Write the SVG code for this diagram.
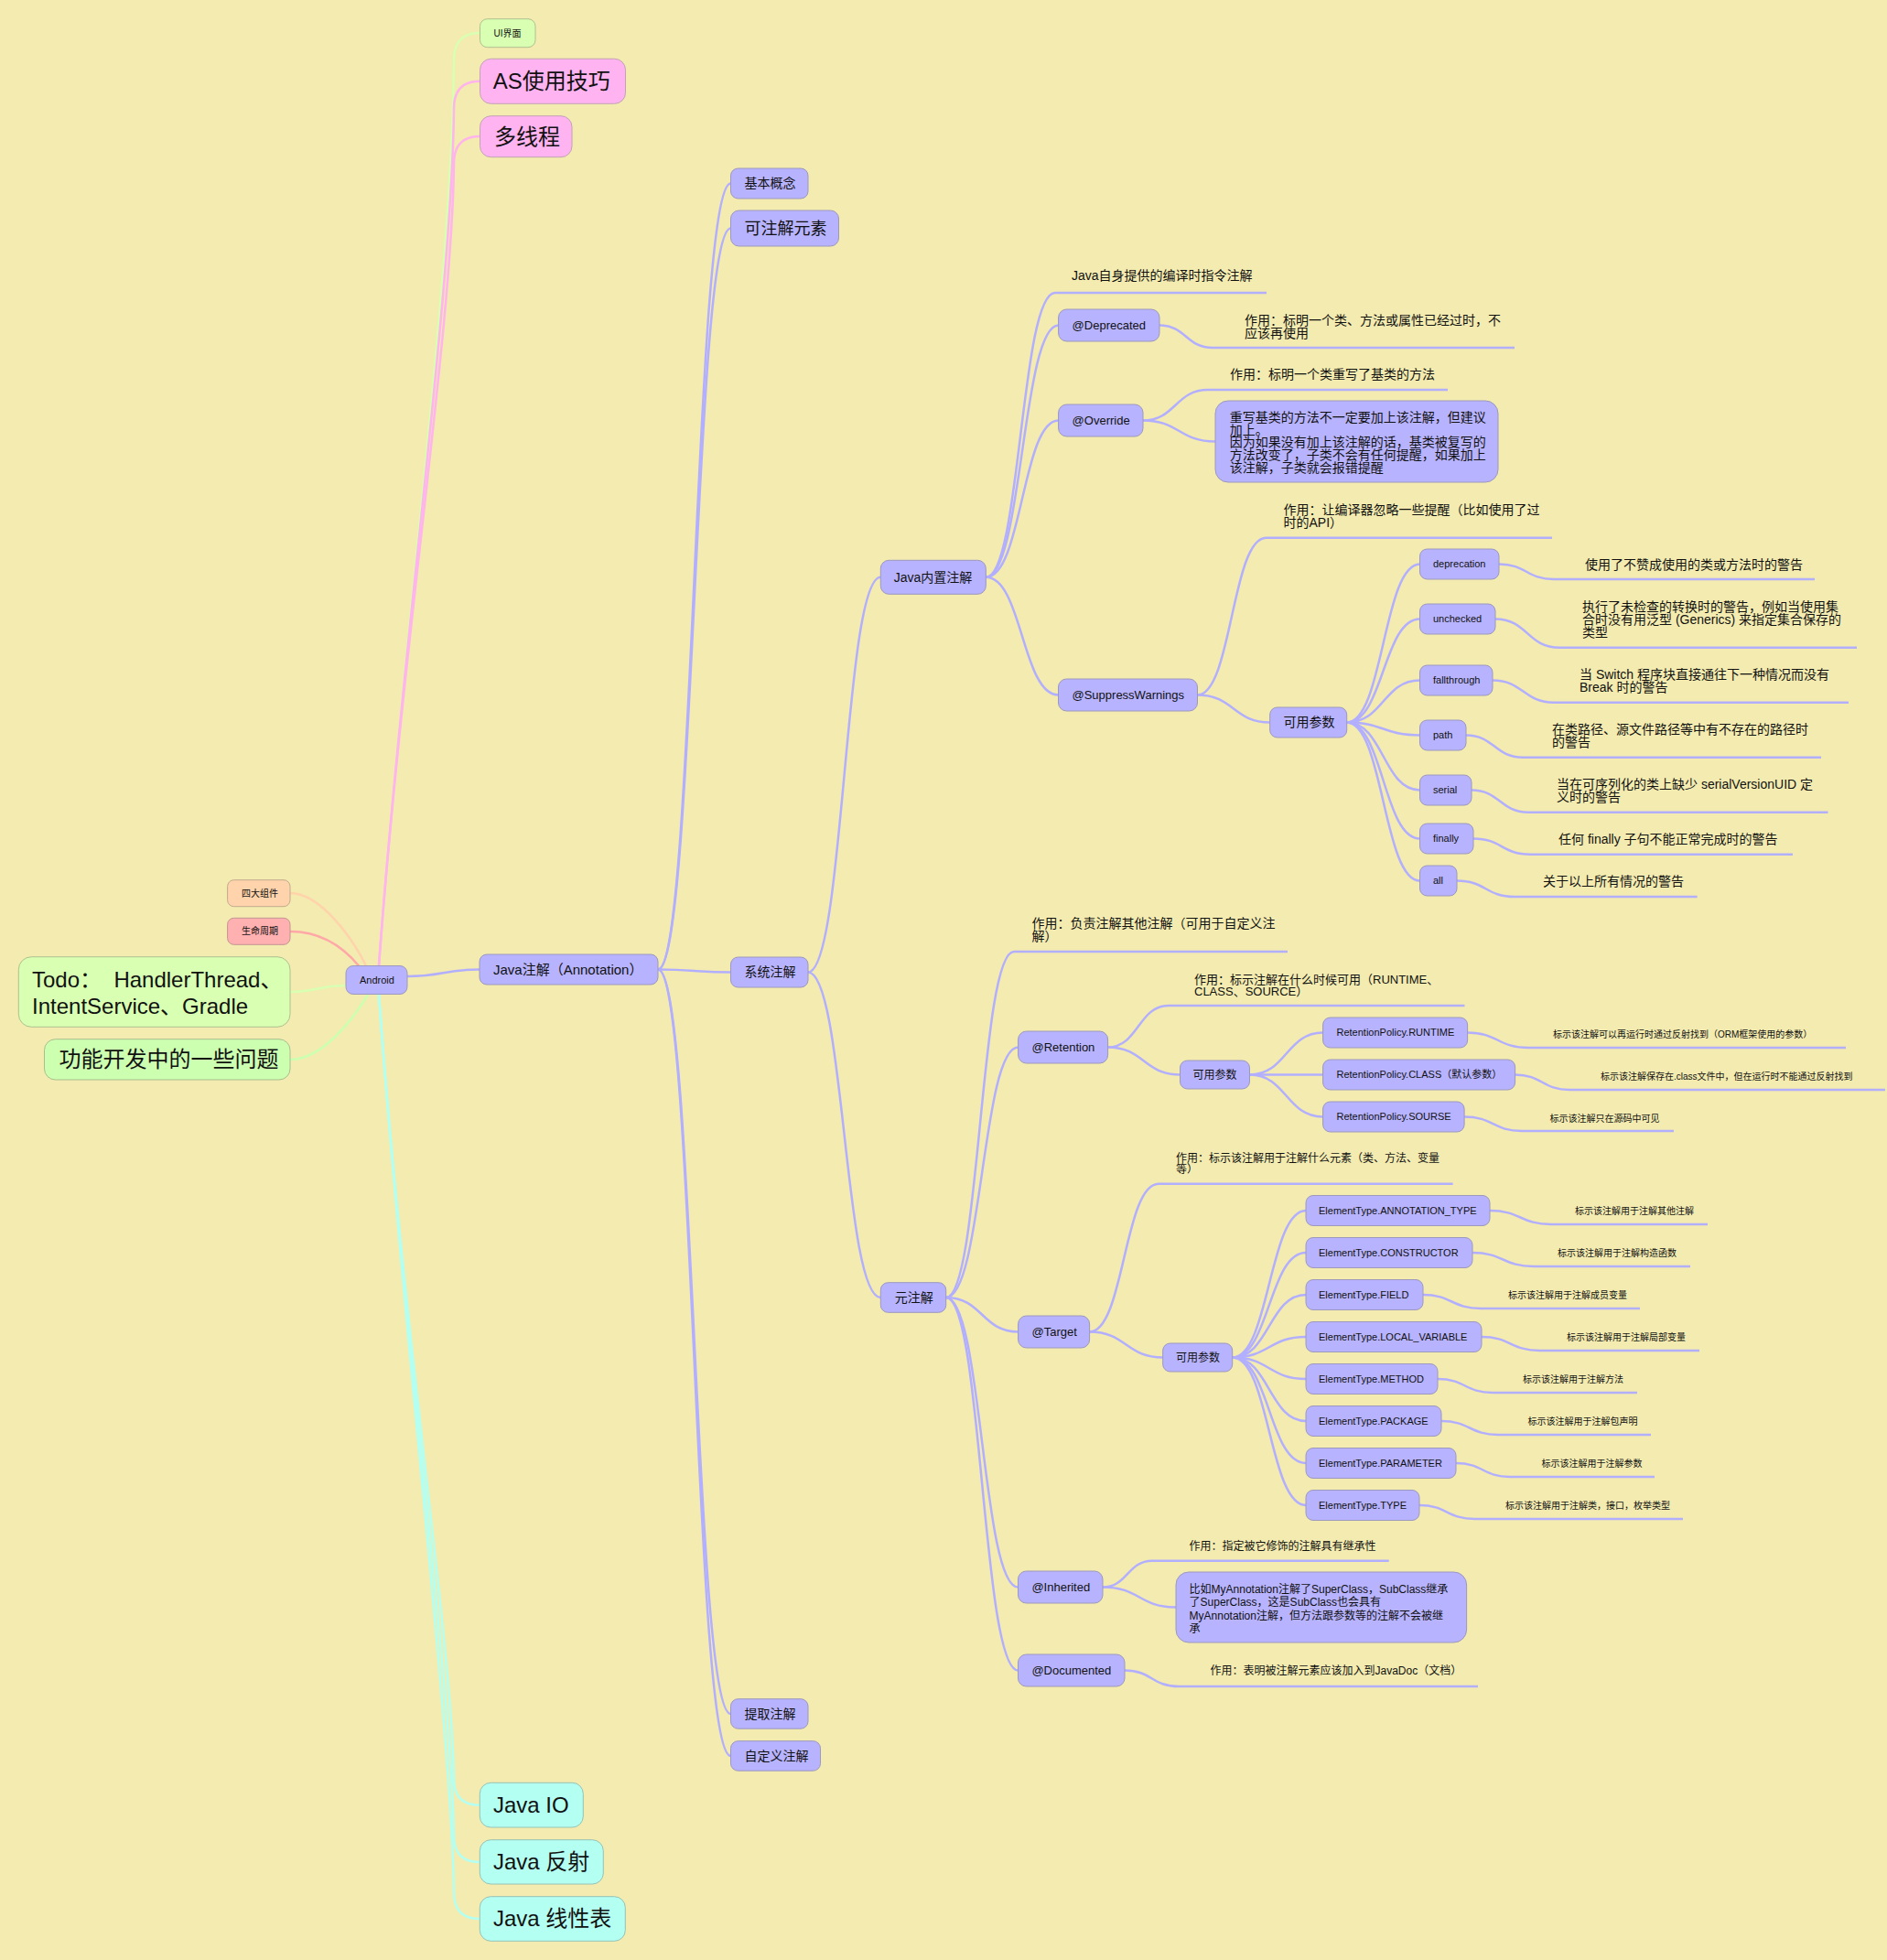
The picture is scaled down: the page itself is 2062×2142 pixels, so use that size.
<svg xmlns="http://www.w3.org/2000/svg" width="2062" height="2142" viewBox="0 0 2062 2142">
<style>
text{font-family:"Liberation Sans","Noto Sans CJK SC",sans-serif;fill:#111}
.n{fill:#B7B3FE;stroke:#9C98BE;stroke-width:1}
.c{fill:none;stroke:#B3AFFF;stroke-width:2.5}
.pk{fill:#FFB3F0;stroke:#C2A3B6;stroke-width:1}
.gr{fill:#D8FFB2;stroke:#AFC08E;stroke-width:1}
.gr2{fill:#CCFFB0;stroke:#A9BE8E;stroke-width:1}
.pe{fill:#FFD3AB;stroke:#C2AA8E;stroke-width:1}
.rd{fill:#FFB0B0;stroke:#C29494;stroke-width:1}
.cy{fill:#B3FFF2;stroke:#96C2B6;stroke-width:1}
.f10{font-size:10px}.f11{font-size:11px}.f12{font-size:12px}.f13{font-size:13px}.f14{font-size:14px}.f15{font-size:15px}.f18{font-size:18px}.f24{font-size:24px}
</style>
<rect x="0" y="0" width="2062" height="2142" fill="#F3EBAF"/>
<g id="connectors">
<path d="M414 1055.5C440 700 494 300 496 66Q496 36 524.5 36" fill="none" stroke="#D8FFB2" stroke-width="2.5"/>
<path d="M414 1055.5C440 700 494 320 496 118.7Q496 88.7 524.5 88.7" fill="none" stroke="#FFB4EC" stroke-width="2.5"/>
<path d="M414 1055.5C440 700 494 360 496 179Q496 149 524.5 149" fill="none" stroke="#FFB4EC" stroke-width="2.5"/>
<path d="M414 1087C440 1450 494 1800 496 1944Q496 1972.7 524.3 1972.7" fill="none" stroke="#B3FFF2" stroke-width="2.5"/>
<path d="M414 1087C440 1450 494 1850 496 2006Q496 2035 524.3 2035" fill="none" stroke="#B3FFF2" stroke-width="2.5"/>
<path d="M414 1087C440 1450 494 1900 496 2068Q496 2097 524.3 2097" fill="none" stroke="#B3FFF2" stroke-width="2.5"/>
<path d="M317 976C350 976 385 1025 400 1055.5" fill="none" stroke="#FFD3AB" stroke-width="2.5"/>
<path d="M317 1018C350 1018 375 1035 392 1055.5" fill="none" stroke="#FFA8A8" stroke-width="2.5"/>
<path d="M317 1084C347 1084 348 1077 378 1077" fill="none" stroke="#D8FFB2" stroke-width="2.5"/>
<path d="M317 1158C352 1158 385 1115 402 1087" fill="none" stroke="#CCFFB0" stroke-width="2.5"/>
<path class="c" d="M445 1067C484.5 1067 484.5 1059.5 524 1059.5"/>
<path class="c" d="M719 1059.5C758.75 1059.5 758.75 200.5 798.5 200.5"/>
<path class="c" d="M719 1059.5C758.75 1059.5 758.75 249.5 798.5 249.5"/>
<path class="c" d="M719 1059.5C758.75 1059.5 758.75 1062.5 798.5 1062.5"/>
<path class="c" d="M719 1059.5C758.75 1059.5 758.75 1873 798.5 1873"/>
<path class="c" d="M719 1059.5C758.75 1059.5 758.75 1919 798.5 1919"/>
<path class="c" d="M883 1062.5C922.6 1062.5 922.6 630.8 962.3 630.8"/>
<path class="c" d="M883 1062.5C922.6 1062.5 922.6 1418 962.3 1418"/>
<path class="c" d="M1077.3 630.8C1115.2 630.8 1115.2 320 1153 320L1384 320"/>
<path class="c" d="M1077.3 630.8C1117 630.8 1117 355.5 1156.6 355.5"/>
<path class="c" d="M1077.3 630.8C1117 630.8 1117 459.5 1156.6 459.5"/>
<path class="c" d="M1077.3 630.8C1117 630.8 1117 759.5 1156.5 759.5"/>
<path class="c" d="M1267 355.5C1296 355.5 1296 380 1325 380L1655 380"/>
<path class="c" d="M1249 459.5C1284.5 459.5 1284.5 426 1320 426L1582 426"/>
<path class="c" d="M1249 459.5C1288.5 459.5 1288.5 482.5 1328 482.5"/>
<path class="c" d="M1308.5 759.5C1346 759.5 1346 587.7 1383.5 587.7L1696 587.7"/>
<path class="c" d="M1308.5 759.5C1348 759.5 1348 789.5 1387.7 789.5"/>
<path class="c" d="M1471.7 789.5C1511.6 789.5 1511.6 616.5 1551.5 616.5"/>
<path class="c" d="M1471.7 789.5C1511.6 789.5 1511.6 676.5 1551.5 676.5"/>
<path class="c" d="M1471.7 789.5C1511.6 789.5 1511.6 743.5 1551.5 743.5"/>
<path class="c" d="M1471.7 789.5C1511.6 789.5 1511.6 803.5 1551.5 803.5"/>
<path class="c" d="M1471.7 789.5C1511.6 789.5 1511.6 863.5 1551.5 863.5"/>
<path class="c" d="M1471.7 789.5C1511.6 789.5 1511.6 916.5 1551.5 916.5"/>
<path class="c" d="M1471.7 789.5C1511.6 789.5 1511.6 962.5 1551.5 962.5"/>
<path class="c" d="M1638 616.5C1668 616.5 1668 633 1698 633L1983 633"/>
<path class="c" d="M1634 676.5C1669 676.5 1669 707.7 1704 707.7L2029 707.7"/>
<path class="c" d="M1631 743.5C1664.5 743.5 1664.5 767.7 1698 767.7L2020 767.7"/>
<path class="c" d="M1602 803.5C1633 803.5 1633 827.7 1664 827.7L1990 827.7"/>
<path class="c" d="M1608 863.5C1639 863.5 1639 887.7 1670 887.7L1997.5 887.7"/>
<path class="c" d="M1610 916.5C1641 916.5 1641 933.7 1672 933.7L1959 933.7"/>
<path class="c" d="M1592 962.5C1623.5 962.5 1623.5 980 1655 980L1854.6 980"/>
<path class="c" d="M1033.7 1418C1070.9 1418 1070.9 1040 1108 1040L1407 1040"/>
<path class="c" d="M1033.7 1418C1073.2 1418 1073.2 1144.5 1112.6 1144.5"/>
<path class="c" d="M1033.7 1418C1073.2 1418 1073.2 1455.5 1112.6 1455.5"/>
<path class="c" d="M1033.7 1418C1073.2 1418 1073.2 1734.5 1112.5 1734.5"/>
<path class="c" d="M1033.7 1418C1073.2 1418 1073.2 1825.5 1112.5 1825.5"/>
<path class="c" d="M1210.6 1144.5C1243.8 1144.5 1243.8 1099 1277 1099L1600.5 1099"/>
<path class="c" d="M1210.6 1144.5C1250 1144.5 1250 1174.5 1289.5 1174.5"/>
<path class="c" d="M1365.5 1174.5C1405.6 1174.5 1405.6 1128.5 1445.6 1128.5"/>
<path class="c" d="M1365.5 1174.5C1405.6 1174.5 1405.6 1174.5 1445.6 1174.5"/>
<path class="c" d="M1365.5 1174.5C1405.6 1174.5 1405.6 1220.5 1445.6 1220.5"/>
<path class="c" d="M1603.6 1128.5C1636.8 1128.5 1636.8 1145 1670 1145L2017 1145"/>
<path class="c" d="M1655.6 1174.5C1685.3 1174.5 1685.3 1191 1715 1191L2060 1191"/>
<path class="c" d="M1600.1 1220.5C1631.5 1220.5 1631.5 1236 1663 1236L1829 1236"/>
<path class="c" d="M1190.6 1455.5C1228.3 1455.5 1228.3 1293.7 1266 1293.7L1587.6 1293.7"/>
<path class="c" d="M1190.6 1455.5C1230.6 1455.5 1230.6 1483.5 1270.7 1483.5"/>
<path class="c" d="M1346.7 1483.5C1386.9 1483.5 1386.9 1323 1427 1323"/>
<path class="c" d="M1346.7 1483.5C1386.9 1483.5 1386.9 1369 1427 1369"/>
<path class="c" d="M1346.7 1483.5C1386.9 1483.5 1386.9 1415 1427 1415"/>
<path class="c" d="M1346.7 1483.5C1386.9 1483.5 1386.9 1461 1427 1461"/>
<path class="c" d="M1346.7 1483.5C1386.9 1483.5 1386.9 1507 1427 1507"/>
<path class="c" d="M1346.7 1483.5C1386.9 1483.5 1386.9 1553 1427 1553"/>
<path class="c" d="M1346.7 1483.5C1386.9 1483.5 1386.9 1599 1427 1599"/>
<path class="c" d="M1346.7 1483.5C1386.9 1483.5 1386.9 1645 1427 1645"/>
<path class="c" d="M1628 1323C1661.5 1323 1661.5 1338 1695 1338L1866 1338"/>
<path class="c" d="M1609 1369C1642.5 1369 1642.5 1384 1676 1384L1847 1384"/>
<path class="c" d="M1555 1415C1586.5 1415 1586.5 1430 1618 1430L1792 1430"/>
<path class="c" d="M1619 1461C1650.8 1461 1650.8 1476 1682.5 1476L1857 1476"/>
<path class="c" d="M1571 1507C1601 1507 1601 1522 1631 1522L1789 1522"/>
<path class="c" d="M1575 1553C1606 1553 1606 1568 1637 1568L1804 1568"/>
<path class="c" d="M1591 1599C1620.5 1599 1620.5 1614 1650 1614L1808 1614"/>
<path class="c" d="M1551 1645C1581.3 1645 1581.3 1660 1611.5 1660L1839 1660"/>
<path class="c" d="M1205 1734.5C1232 1734.5 1232 1705.7 1259 1705.7L1517.7 1705.7"/>
<path class="c" d="M1205 1734.5C1245 1734.5 1245 1756.5 1285 1756.5"/>
<path class="c" d="M1229 1825.5C1258.5 1825.5 1258.5 1843 1288 1843L1615 1843"/>
</g>
<g id="ui"><rect class="gr" x="524.5" y="20.7" width="60.5" height="31" rx="8"/><text class="f10" x="539.5" y="39.5">UI界面</text></g>
<g id="as"><rect class="pk" x="524.5" y="64.3" width="159" height="49" rx="12"/><text class="f24" x="538.7" y="97">AS使用技巧</text></g>
<g id="thread"><rect class="pk" x="524.5" y="126.7" width="100.5" height="45" rx="12"/><text class="f24" x="540" y="157.5">多线程</text></g>
<g id="four"><rect class="pe" x="248.6" y="961.7" width="68.4" height="29" rx="7"/><text class="f10" x="264" y="979.5">四大组件</text></g>
<g id="life"><rect class="rd" x="248.6" y="1003.3" width="68.4" height="29" rx="7"/><text class="f10" x="264" y="1021.3">生命周期</text></g>
<g id="todo"><rect class="gr" x="20.3" y="1045.7" width="296.7" height="76.6" rx="14"/><text class="f24" x="35" y="1079" style="white-space:pre">Todo：  HandlerThread、</text><text class="f24" x="35" y="1107.5">IntentService、Gradle</text></g>
<g id="issues"><rect class="gr2" x="48.5" y="1135.7" width="268.5" height="44.3" rx="12"/><text class="f24" x="64.5" y="1166">功能开发中的一些问题</text></g>
<g id="javaio"><rect class="cy" x="524.3" y="1948.3" width="113" height="48.7" rx="12"/><text class="f24" x="539" y="1981">Java IO</text></g>
<g id="reflect"><rect class="cy" x="524.3" y="2010.7" width="135" height="48.3" rx="12"/><text class="f24" x="539" y="2043">Java 反射</text></g>
<g id="linear"><rect class="cy" x="524.3" y="2072.7" width="159" height="48.6" rx="12"/><text class="f24" x="539" y="2105">Java 线性表</text></g>
<g id="android"><rect class="n" x="378" y="1055.5" width="67" height="31" rx="8"/><text class="f11" x="393" y="1075">Android</text></g>
<g id="annotation"><rect class="n" x="524" y="1043" width="195" height="33" rx="8"/><text class="f15" x="539" y="1064.8">Java注解（Annotation）</text></g>
<g id="basic"><rect class="n" x="798.5" y="184" width="84.5" height="33" rx="8"/><text class="f14" x="813.5" y="205.4">基本概念</text></g>
<g id="elements"><rect class="n" x="798.5" y="230" width="118" height="39" rx="9"/><text class="f18" x="813.5" y="255.8">可注解元素</text></g>
<g id="system"><rect class="n" x="798.5" y="1046" width="84.5" height="33" rx="8"/><text class="f14" x="813.5" y="1067.4">系统注解</text></g>
<g id="extract"><rect class="n" x="798.5" y="1856.7" width="84.5" height="32.5" rx="8"/><text class="f14" x="813.5" y="1877.9">提取注解</text></g>
<g id="custom"><rect class="n" x="798.5" y="1902.7" width="98" height="32.5" rx="8"/><text class="f14" x="813.5" y="1923.9">自定义注解</text></g>
<g id="builtin"><rect class="n" x="962.3" y="612.3" width="115" height="37" rx="9"/><text class="f14" x="976.7" y="635.7">Java内置注解</text></g>
<g id="meta"><rect class="n" x="962.3" y="1401.7" width="71.4" height="32.6" rx="8"/><text class="f14" x="977.7" y="1422.9">元注解</text></g>
<g id="t-builtin"><text class="f14" x="1171" y="306">Java自身提供的编译时指令注解</text></g>
<g id="deprecated"><rect class="n" x="1156.6" y="338" width="110.4" height="35" rx="9"/><text class="f13" x="1171.6" y="360">@Deprecated</text></g>
<g id="t-deprecated"><text class="f14" x="1360" y="355">作用：标明一个类、方法或属性已经过时，不</text><text class="f14" x="1360" y="368.5">应该再使用</text></g>
<g id="override"><rect class="n" x="1156.6" y="442" width="92.4" height="35" rx="9"/><text class="f13" x="1171.6" y="464">@Override</text></g>
<g id="t-override"><text class="f14" x="1344" y="414">作用：标明一个类重写了基类的方法</text></g>
<g id="override-note"><rect class="n" x="1328" y="438" width="309" height="89" rx="14"/>
<text class="f14" x="1343.8" y="461">重写基类的方法不一定要加上该注解，但建议</text>
<text class="f14" x="1343.8" y="474.7">加上。</text>
<text class="f14" x="1343.8" y="488.4">因为如果没有加上该注解的话，基类被复写的</text>
<text class="f14" x="1343.8" y="502.1">方法改变了，子类不会有任何提醒，如果加上</text>
<text class="f14" x="1343.8" y="515.8">该注解，子类就会报错提醒</text></g>
<g id="suppress"><rect class="n" x="1156.5" y="742" width="152" height="35" rx="9"/><text class="f13" x="1171.5" y="764">@SuppressWarnings</text></g>
<g id="t-suppress"><text class="f14" x="1402.5" y="561.7">作用：让编译器忽略一些提醒（比如使用了过</text><text class="f14" x="1402.5" y="576">时的API）</text></g>
<g id="sw-params"><rect class="n" x="1387.7" y="773" width="84" height="33" rx="8"/><text class="f14" x="1402.5" y="794.4">可用参数</text></g>
<g id="p-deprecation"><rect class="n" x="1551.5" y="600" width="86.5" height="33" rx="8"/><text class="f11" x="1566" y="620.4">deprecation</text></g>
<g id="p-unchecked"><rect class="n" x="1551.5" y="660" width="82.5" height="33" rx="8"/><text class="f11" x="1566" y="680.4">unchecked</text></g>
<g id="p-fallthrough"><rect class="n" x="1551.5" y="727" width="79.5" height="33" rx="8"/><text class="f11" x="1566" y="747.4">fallthrough</text></g>
<g id="p-path"><rect class="n" x="1551.5" y="787" width="50.5" height="33" rx="8"/><text class="f11" x="1566" y="807.4">path</text></g>
<g id="p-serial"><rect class="n" x="1551.5" y="847" width="56.5" height="33" rx="8"/><text class="f11" x="1566" y="867.4">serial</text></g>
<g id="p-finally"><rect class="n" x="1551.5" y="900" width="58.5" height="33" rx="8"/><text class="f11" x="1566" y="920.4">finally</text></g>
<g id="p-all"><rect class="n" x="1551.5" y="946" width="40.5" height="33" rx="8"/><text class="f11" x="1566" y="966.4">all</text></g>
<g id="t-deprecation"><text class="f14" x="1732" y="622">使用了不赞成使用的类或方法时的警告</text></g>
<g id="t-unchecked"><text class="f14" x="1729" y="668">执行了未检查的转换时的警告，例如当使用集</text><text class="f14" x="1729" y="682">合时没有用泛型 (Generics) 来指定集合保存的</text><text class="f14" x="1729" y="696">类型</text></g>
<g id="t-fallthrough"><text class="f14" x="1726" y="742">当 Switch 程序块直接通往下一种情况而没有</text><text class="f14" x="1726" y="755.5">Break 时的警告</text></g>
<g id="t-path"><text class="f14" x="1696" y="802">在类路径、源文件路径等中有不存在的路径时</text><text class="f14" x="1696" y="816">的警告</text></g>
<g id="t-serial"><text class="f14" x="1701" y="861.7">当在可序列化的类上缺少 serialVersionUID 定</text><text class="f14" x="1701" y="875.7">义时的警告</text></g>
<g id="t-finally"><text class="f14" x="1703" y="922">任何 finally 子句不能正常完成时的警告</text></g>
<g id="t-all"><text class="f14" x="1686" y="968">关于以上所有情况的警告</text></g>
<g id="t-meta"><text class="f14" x="1127.5" y="1014">作用：负责注解其他注解（可用于自定义注</text><text class="f14" x="1127.5" y="1028">解）</text></g>
<g id="retention"><rect class="n" x="1112.6" y="1127" width="98" height="35" rx="9"/><text class="f13" x="1127.5" y="1149">@Retention</text></g>
<g id="t-retention"><text class="f13" x="1305" y="1075">作用：标示注解在什么时候可用（RUNTIME、</text><text class="f13" x="1305" y="1088">CLASS、SOURCE）</text></g>
<g id="ret-params"><rect class="n" x="1289.5" y="1159" width="76" height="31" rx="8"/><text class="f12" x="1303.6" y="1178.7">可用参数</text></g>
<g id="r-runtime"><rect class="n" x="1445.6" y="1112" width="158" height="33" rx="8"/><text class="f11" x="1460.5" y="1132.4">RetentionPolicy.RUNTIME</text></g>
<g id="r-class"><rect class="n" x="1445.6" y="1158" width="210" height="33" rx="8"/><text class="f11" x="1460.5" y="1178.4">RetentionPolicy.CLASS（默认参数）</text></g>
<g id="r-source"><rect class="n" x="1445.6" y="1204" width="154.5" height="33" rx="8"/><text class="f11" x="1460.5" y="1224.4">RetentionPolicy.SOURSE</text></g>
<g id="t-runtime"><text class="f10" x="1697" y="1133.5">标示该注解可以再运行时通过反射找到（ORM框架使用的参数）</text></g>
<g id="t-class"><text class="f10" x="1749" y="1179.5">标示该注解保存在.class文件中，但在运行时不能通过反射找到</text></g>
<g id="t-source"><text class="f10" x="1693.5" y="1225.5">标示该注解只在源码中可见</text></g>
<g id="target"><rect class="n" x="1112.6" y="1438" width="78" height="35" rx="9"/><text class="f13" x="1127.5" y="1460">@Target</text></g>
<g id="t-target"><text class="f12" x="1285" y="1269.5">作用：标示该注解用于注解什么元素（类、方法、变量</text><text class="f12" x="1285" y="1282">等）</text></g>
<g id="tgt-params"><rect class="n" x="1270.7" y="1468" width="76" height="31" rx="8"/><text class="f12" x="1285" y="1487.7">可用参数</text></g>
<g id="e-annotation"><rect class="n" x="1427" y="1306.5" width="201" height="33" rx="8"/><text class="f11" x="1441" y="1326.9">ElementType.ANNOTATION_TYPE</text></g>
<g id="e-constructor"><rect class="n" x="1427" y="1352.5" width="182" height="33" rx="8"/><text class="f11" x="1441" y="1372.9">ElementType.CONSTRUCTOR</text></g>
<g id="e-field"><rect class="n" x="1427" y="1398.5" width="128" height="33" rx="8"/><text class="f11" x="1441" y="1418.9">ElementType.FIELD</text></g>
<g id="e-local"><rect class="n" x="1427" y="1444.5" width="192" height="33" rx="8"/><text class="f11" x="1441" y="1464.9">ElementType.LOCAL_VARIABLE</text></g>
<g id="e-method"><rect class="n" x="1427" y="1490.5" width="144" height="33" rx="8"/><text class="f11" x="1441" y="1510.9">ElementType.METHOD</text></g>
<g id="e-package"><rect class="n" x="1427" y="1536.5" width="148" height="33" rx="8"/><text class="f11" x="1441" y="1556.9">ElementType.PACKAGE</text></g>
<g id="e-parameter"><rect class="n" x="1427" y="1582.5" width="164" height="33" rx="8"/><text class="f11" x="1441" y="1602.9">ElementType.PARAMETER</text></g>
<g id="e-type"><rect class="n" x="1427" y="1628.5" width="124" height="33" rx="8"/><text class="f11" x="1441" y="1648.9">ElementType.TYPE</text></g>
<g id="t-e-annotation"><text class="f10" x="1721" y="1327">标示该注解用于注解其他注解</text></g>
<g id="t-e-constructor"><text class="f10" x="1702" y="1373">标示该注解用于注解构造函数</text></g>
<g id="t-e-field"><text class="f10" x="1648" y="1419">标示该注解用于注解成员变量</text></g>
<g id="t-e-local"><text class="f10" x="1712" y="1465">标示该注解用于注解局部变量</text></g>
<g id="t-e-method"><text class="f10" x="1664" y="1511">标示该注解用于注解方法</text></g>
<g id="t-e-package"><text class="f10" x="1669.6" y="1557">标示该注解用于注解包声明</text></g>
<g id="t-e-parameter"><text class="f10" x="1684.5" y="1603">标示该注解用于注解参数</text></g>
<g id="t-e-type"><text class="f10" x="1645" y="1649">标示该注解用于注解类，接口，枚举类型</text></g>
<g id="inherited"><rect class="n" x="1112.5" y="1717" width="92.5" height="35" rx="9"/><text class="f13" x="1127.4" y="1739">@Inherited</text></g>
<g id="t-inherited"><text class="f12" x="1299.6" y="1694">作用：指定被它修饰的注解具有继承性</text></g>
<g id="inherited-note"><rect class="n" x="1285" y="1718" width="317.6" height="77" rx="14"/>
<text class="f12" x="1299.6" y="1740.5">比如MyAnnotation注解了SuperClass，SubClass继承</text>
<text class="f12" x="1299.6" y="1755">了SuperClass，这是SubClass也会具有</text>
<text class="f12" x="1299.6" y="1769.5">MyAnnotation注解，但方法跟参数等的注解不会被继</text>
<text class="f12" x="1299.6" y="1784">承</text></g>
<g id="documented"><rect class="n" x="1112.5" y="1808" width="116.5" height="35" rx="9"/><text class="f13" x="1127.4" y="1830">@Documented</text></g>
<g id="t-documented"><text class="f12" x="1322.5" y="1830">作用：表明被注解元素应该加入到JavaDoc（文档）</text></g>
</svg>
